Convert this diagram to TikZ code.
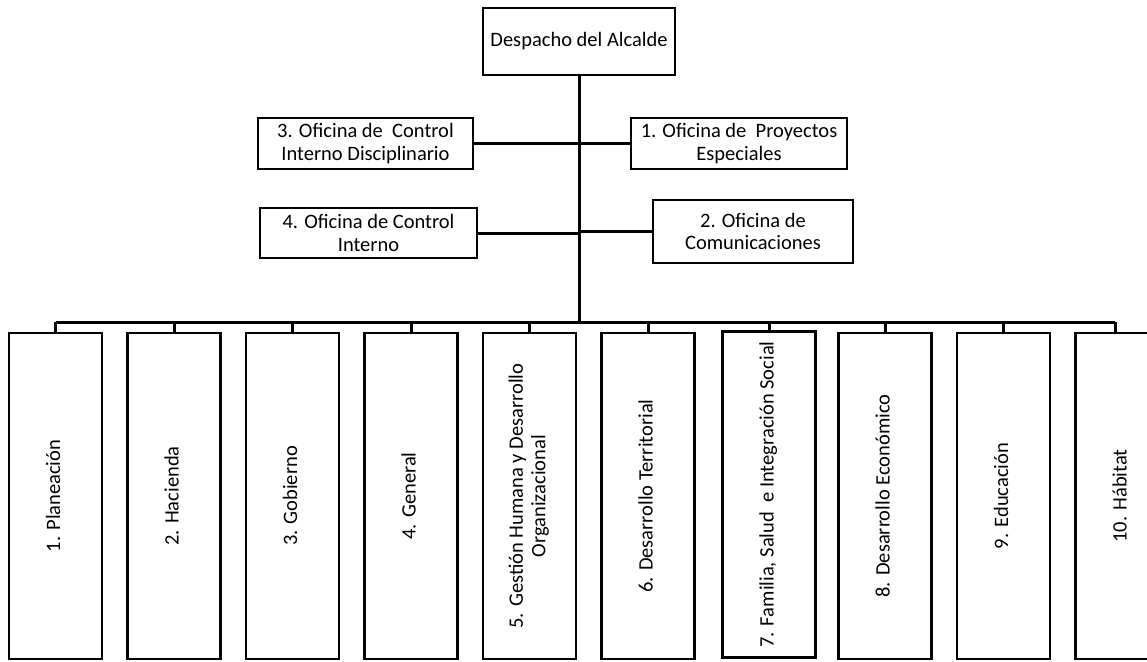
\documentclass[tikz,border=0pt]{standalone}
\usepackage{fontspec}
\setmainfont{Carlito}
\usepackage{graphicx}
\newcommand{\vtxt}[1]{\rotatebox{90}{\begin{tabular}{@{}c@{}}#1\end{tabular}}}
\begin{document}
\begin{tikzpicture}[x=1pt,y=-1pt,
  every node/.style={font=\fontsize{20.5}{22.5}\selectfont},
  box/.style={draw,line width=2.9pt,inner sep=0pt,align=center,anchor=center},
  vbox/.style={box,minimum width=93pt,minimum height=326pt},
  conn/.style={line width=3pt}]
\useasboundingbox (0,0) rectangle (1147,661);
\clip (0,0) rectangle (1147,661);
% top
\node[box,minimum width=192pt,minimum height=67pt] (top) at (579,41.5) {Despacho del Alcalde};
% staff offices
\node[box,minimum width=215pt,minimum height=51pt] (o3) at (365.5,143.5) {3. Oficina de~ Control\\Interno Disciplinario};
\node[box,minimum width=217pt,minimum height=50pt] (o4) at (368.5,233) {4. Oficina de Control\\Interno};
\node[box,minimum width=216pt,minimum height=51pt] (o1) at (739,143.5) {1. Oficina de~ Proyectos\\Especiales};
\node[box,minimum width=200pt,minimum height=63pt] (o2) at (753,231.5) {2. Oficina de\\Comunicaciones};
\coordinate (hub) at (578,322);
% departments
\node[vbox] (d1) at (55.5,496) {\vtxt{1. Planeación}};
\node[vbox] (d2) at (174,496) {\vtxt{2. Hacienda}};
\node[vbox] (d3) at (292.5,496) {\vtxt{3. Gobierno}};
\node[vbox] (d4) at (411,496) {\vtxt{4. General}};
\node[vbox] (d5) at (529.5,496) {\vtxt{5. Gestión Humana y Desarrollo\\Organizacional}};
\node[vbox] (d6) at (648,496) {\vtxt{6. Desarrollo Territorial}};
\node[vbox] (d7) at (769,494.5) {\vtxt{7. Familia, Salud~ e Integración Social}};
\node[vbox] (d8) at (885,496) {\vtxt{8. Desarrollo Económico}};
\node[vbox] (d9) at (1003.5,496) {\vtxt{9. Educación}};
\node[vbox] (d10) at (1122,496) {\vtxt{10. Hábitat}};
\coordinate (d10top) at ([xshift=-7pt]d10.north);
% connectors
\draw[conn] (top.south) -- (top.south |- hub);
\draw[conn] (o3.east) -- (o3.east -| hub);
\draw[conn] (o1.west) -- (o1.west -| hub);
\draw[conn] (o4.east) -- (o4.east -| hub);
\draw[conn] (o2.west) -- (o2.west -| hub);
\draw[conn] (d1.north |- hub) -- (d10top |- hub);
\foreach \n in {d1,d2,d3,d4,d5,d6,d7,d8,d9} {
  \draw[conn] (\n.north) -- (\n.north |- hub);
}
\draw[conn] (d10top) -- (d10top |- hub);
\end{tikzpicture}
\end{document}
